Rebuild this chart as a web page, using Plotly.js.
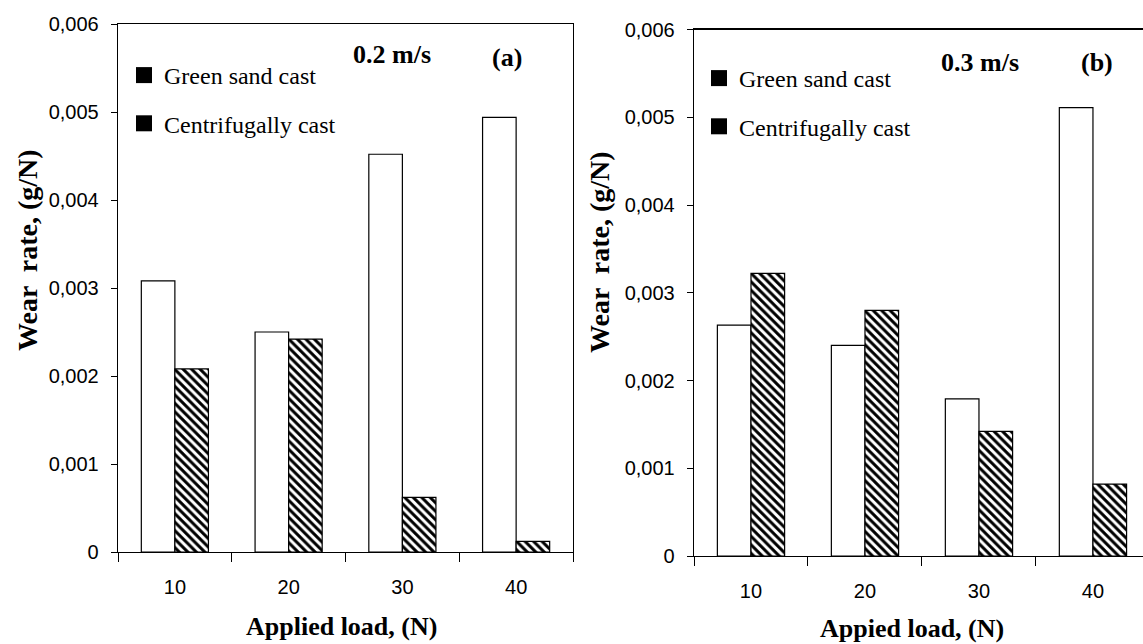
<!DOCTYPE html>
<html>
<head>
<meta charset="utf-8">
<script src="https://cdn.plot.ly/plotly-3.0.1.min.js"></script>
<style>html,body{margin:0;padding:0;background:#fff;}#chart{width:1143px;height:644px;}</style>
</head>
<body>
<div id="chart"></div>
<script>
// ---- data ----
const loads = ['10', '20', '30', '40'];
const greenSandA = [0.00308, 0.00250, 0.00452, 0.00494];
const centrifugalA = [0.00208, 0.00242, 0.00062, 0.00012];
const greenSandB = [0.00263, 0.00240, 0.00179, 0.00511];
const centrifugalB = [0.00322, 0.00280, 0.00142, 0.00082];
const yTickVals = [0, 0.001, 0.002, 0.003, 0.004, 0.005, 0.006];
const yTickText = ['0', '0,001', '0,002', '0,003', '0,004', '0,005', '0,006'];
const seriesNames = ['Green sand cast', 'Centrifugally cast'];

// ---- layout helpers ----
const W = 1143, H = 644;
const px = v => v / W;
const py = v => (H - v) / H;
const serif = 'Liberation Serif';
const sans = 'Liberation Sans';

function barTrace(vals, hatched, xa, ya, name) {
  return {
    type: 'bar', x: loads, y: vals, xaxis: xa, yaxis: ya, name: name,
    showlegend: false, hoverinfo: 'skip',
    marker: {
      color: 'white',
      line: {color: 'black', width: 1.2},
      pattern: hatched ? {shape: '\\', fgcolor: 'black', bgcolor: 'white', size: 6, solidity: 0.5} : {shape: ''}
    }
  };
}
function legendTrace(name, xa, ya, leg) {
  return {
    type: 'scatter', mode: 'markers', x: [null], y: [null], xaxis: xa, yaxis: ya,
    name: name, legend: leg, legendgroup: leg + name, showlegend: true,
    marker: {symbol: 'square', size: 16, color: 'black'}
  };
}

const traces = [
  barTrace(greenSandA, false, 'x', 'y', seriesNames[0]),
  barTrace(centrifugalA, true, 'x', 'y', seriesNames[1]),
  barTrace(greenSandB, false, 'x2', 'y2', seriesNames[0]),
  barTrace(centrifugalB, true, 'x2', 'y2', seriesNames[1]),
  legendTrace(seriesNames[0], 'x', 'y', 'legend'),
  legendTrace(seriesNames[1], 'x', 'y', 'legend'),
  legendTrace(seriesNames[0], 'x2', 'y2', 'legend2'),
  legendTrace(seriesNames[1], 'x2', 'y2', 'legend2')
];

function xAxis(extra) {
  return Object.assign({
    type: 'category', showline: true, linecolor: 'black', linewidth: 1.3, mirror: true,
    ticks: 'outside', tickson: 'boundaries', ticklen: 9, tickcolor: 'black', tickwidth: 1,
    tickfont: {family: sans, size: 20, color: 'black'}, ticklabelstandoff: 17,
    showgrid: false, zeroline: false, fixedrange: true
  }, extra);
}
function yAxis(extra) {
  return Object.assign({
    range: [0, 0.006], tickvals: yTickVals, ticktext: yTickText,
    showline: true, linecolor: 'black', linewidth: 1.3, mirror: true,
    ticks: 'outside', ticklen: 6, tickcolor: 'black', tickwidth: 1,
    tickfont: {family: sans, size: 20, color: 'black'}, ticklabelstandoff: 8,
    showgrid: false, zeroline: false, fixedrange: true
  }, extra);
}
function legendBox(x, y) {
  return {
    x: px(x), y: py(y), xanchor: 'left', yanchor: 'top', bgcolor: 'rgba(0,0,0,0)', borderwidth: 0,
    font: {family: serif, size: 24, color: 'black'}, tracegroupgap: 14, itemclick: false,
    traceorder: 'grouped'
  };
}

function ann(text, x, y, opts) {
  return Object.assign({
    text: text, xref: 'paper', yref: 'paper', x: px(x), y: py(y),
    xanchor: 'center', yanchor: 'middle', showarrow: false,
    font: {family: serif, size: 26, color: 'black'}
  }, opts || {});
}

const layout = {
  width: W, height: H,
  font: {family: serif, color: 'black'},
  margin: {l: 0, r: 0, t: 0, b: 0, pad: 0},
  paper_bgcolor: 'white', plot_bgcolor: 'white',
  barmode: 'group', bargap: 0.41, bargroupgap: 0,
  xaxis: xAxis({domain: [px(118), px(573)], anchor: 'y', range: [-0.5, 3.5]}),
  yaxis: yAxis({domain: [py(552), py(24)], anchor: 'x'}),
  xaxis2: xAxis({domain: [px(694), 1], anchor: 'y2', range: [-0.5, 3.439]}),
  yaxis2: yAxis({domain: [py(556), py(29.5)], anchor: 'x2'}),
  legend: legendBox(124, 53),
  legend2: legendBox(699, 56),
  annotations: [
    ann('<b>0.2 m/s</b>', 392, 55),
    ann('<b>(a)</b>', 507, 57),
    ann('<b>0.3 m/s</b>', 980, 62),
    ann('<b>(b)</b>', 1097, 62),
    ann('<b>Applied load, (N)</b>', 341, 626),
    ann('<b>Appied load, (N)</b>', 912, 628),
    ann('<b>Wear  rate, (g/N)</b>', 27, 250, {textangle: -90, font: {family: serif, size: 28, color: 'black'}}),
    ann('<b>Wear  rate, (g/N)</b>', 600, 252, {textangle: -90, font: {family: serif, size: 28, color: 'black'}})
  ]
};

Plotly.newPlot('chart', traces, layout, {staticPlot: true, displayModeBar: false});
</script>
</body>
</html>
